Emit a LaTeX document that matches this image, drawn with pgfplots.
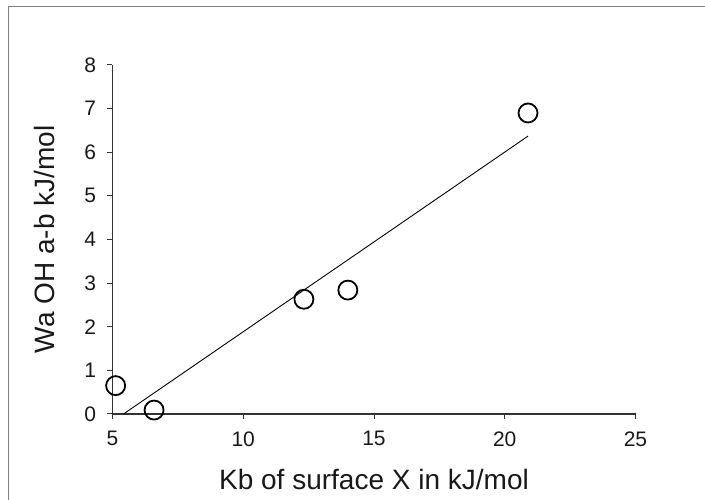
\documentclass[border=0pt]{standalone}
\usepackage{fontspec}
\setmainfont{Liberation Sans}
\usepackage{pgfplots}
\pgfplotsset{compat=1.18}
\begin{document}
\begin{tikzpicture}
\path[use as bounding box] (0pt,0pt) rectangle (705pt,500pt);
\draw[black!50, line width=1pt] (8pt,0pt) -- (8pt,493pt) -- (705pt,493pt);
\begin{axis}[
  at={(112.5pt,86pt)}, anchor=south west,
  scale only axis, width=523pt, height=349pt,
  xmin=5, xmax=25, ymin=0, ymax=8,
  axis x line=bottom, axis y line=left,
  axis line style={-, black!80, line width=1.1pt},
  xtick={5,10,15,20,25}, ytick={0,1,...,8},
  tick align=outside, major tick length=5pt,
  tick style={black!80, line width=1pt},
  /pgf/number format/assume math mode=true,
  ticklabel style={font=\fontsize{21}{21}\selectfont, text=black!90},
  xticklabel style={yshift=-9pt},
  yticklabel style={xshift=-8pt},
  xlabel={Kb of surface X in kJ/mol},
  ylabel={Wa OH a-b kJ/mol},
  label style={font=\fontsize{28}{28}\selectfont, text=black!90},
  xlabel style={at={(axis description cs:0.5,-0.1891)}, anchor=center},
  ylabel style={at={(axis description cs:-0.1300,0.5)}, anchor=center},
  clip=false,
]
\addplot[black, line width=0.9pt] coordinates {(5.42,0) (20.89,6.37)};
\addplot[only marks, mark=o, mark size=9.5pt, mark options={line width=1.8pt, black}]
  coordinates {(5.12,0.65) (6.59,0.09) (12.32,2.63) (14.0,2.84) (20.89,6.9)};
\end{axis}
\end{tikzpicture}
\end{document}
